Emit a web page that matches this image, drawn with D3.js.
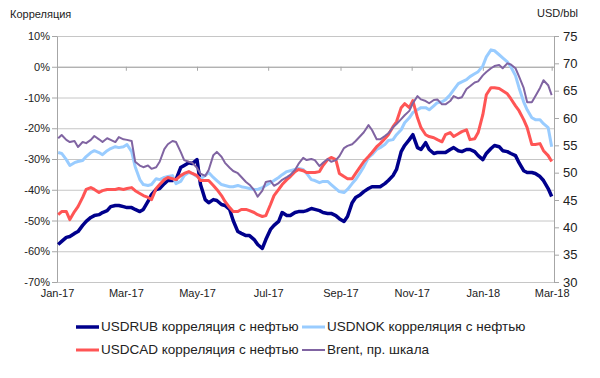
<!DOCTYPE html>
<html>
<head>
<meta charset="utf-8">
<script src="https://cdn.jsdelivr.net/npm/d3@7"></script>
<style>
  body { margin: 0; background: #fff; }
  svg { font-family: "Liberation Sans", Arial, sans-serif; }
</style>
</head>
<body>
<div id="chart"></div>
<script>
// observations twice a week (Mon / Thu)
const dates = [
  "2017-01-02","2017-01-05","2017-01-09","2017-01-12","2017-01-16","2017-01-19","2017-01-23","2017-01-26",
  "2017-01-30","2017-02-02","2017-02-06","2017-02-09","2017-02-13","2017-02-16","2017-02-20","2017-02-23",
  "2017-02-27","2017-03-02","2017-03-06","2017-03-09","2017-03-13","2017-03-16","2017-03-20","2017-03-23",
  "2017-03-27","2017-03-30","2017-04-03","2017-04-06","2017-04-10","2017-04-13","2017-04-17","2017-04-20",
  "2017-04-24","2017-04-27","2017-05-01","2017-05-04","2017-05-08","2017-05-11","2017-05-15","2017-05-18",
  "2017-05-22","2017-05-25","2017-05-29","2017-06-01","2017-06-05","2017-06-08","2017-06-12","2017-06-15",
  "2017-06-19","2017-06-22","2017-06-26","2017-06-29","2017-07-03","2017-07-06","2017-07-10","2017-07-13",
  "2017-07-17","2017-07-20","2017-07-24","2017-07-27","2017-07-31","2017-08-03","2017-08-07","2017-08-10",
  "2017-08-14","2017-08-17","2017-08-21","2017-08-24","2017-08-28","2017-08-31","2017-09-04","2017-09-07",
  "2017-09-11","2017-09-14","2017-09-18","2017-09-21","2017-09-25","2017-09-28","2017-10-02","2017-10-05",
  "2017-10-09","2017-10-12","2017-10-16","2017-10-19","2017-10-23","2017-10-26","2017-10-30","2017-11-02",
  "2017-11-06","2017-11-09","2017-11-13","2017-11-16","2017-11-20","2017-11-23","2017-11-27","2017-11-30",
  "2017-12-04","2017-12-07","2017-12-11","2017-12-14","2017-12-18","2017-12-21","2017-12-25","2017-12-28",
  "2018-01-01","2018-01-04","2018-01-08","2018-01-11","2018-01-15","2018-01-18","2018-01-22","2018-01-25",
  "2018-01-29","2018-02-01","2018-02-05","2018-02-08","2018-02-12","2018-02-15","2018-02-19","2018-02-22",
  "2018-02-26","2018-03-01"
];

const usdrub = [
  -57.8,-56.8,-55.5,-55.2,-54.2,-53.6,-51.6,-50.3,-49.0,-48.4,-48.1,-47.4,-46.8,-45.5,-45.1,-45.1,
  -45.5,-45.8,-45.8,-46.4,-47.1,-46.4,-43.8,-41.6,-39.9,-39.6,-38.0,-37.0,-37.0,-36.7,-32.8,-32.1,
  -31.2,-31.5,-30.2,-38.3,-43.2,-44.2,-43.2,-43.5,-44.8,-45.1,-46.4,-50.0,-53.6,-54.2,-54.9,-54.9,
  -56.2,-57.8,-59.1,-56.2,-52.9,-51.6,-50.3,-47.4,-48.4,-48.4,-47.4,-47.1,-47.1,-46.8,-46.1,-46.4,
  -46.8,-47.4,-47.7,-47.7,-48.4,-49.4,-50.3,-48.7,-44.2,-42.5,-41.6,-40.6,-39.6,-39.0,-39.0,-39.0,
  -38.0,-37.0,-35.4,-33.4,-27.6,-25.6,-23.7,-22.1,-26.3,-26.9,-24.7,-26.9,-28.2,-27.9,-27.9,-27.9,
  -26.9,-26.3,-27.3,-27.6,-26.9,-26.9,-27.6,-28.9,-30.2,-28.2,-26.6,-25.6,-26.0,-27.3,-27.6,-28.2,
  -28.9,-31.2,-33.8,-34.4,-34.4,-34.7,-35.7,-37.0,-39.6,-42.2
];
const usdnok = [
  -27.9,-28.2,-30.2,-32.1,-31.2,-30.8,-30.5,-29.2,-27.9,-27.3,-27.9,-28.6,-27.3,-26.6,-26.0,-26.3,
  -26.0,-25.3,-27.6,-32.5,-36.7,-38.3,-38.6,-38.3,-36.4,-36.7,-36.0,-35.7,-35.4,-38.0,-37.3,-35.4,
  -34.4,-34.7,-35.7,-36.4,-35.4,-34.4,-36.0,-37.0,-38.3,-38.6,-39.0,-39.0,-38.6,-39.0,-39.3,-39.6,
  -39.9,-39.9,-39.3,-38.6,-37.7,-37.0,-36.0,-35.1,-34.1,-33.8,-33.4,-33.1,-33.4,-34.7,-36.7,-37.0,
  -37.7,-37.3,-37.3,-38.3,-39.6,-40.6,-40.9,-39.9,-38.0,-36.7,-34.4,-32.5,-29.5,-28.6,-26.9,-26.3,
  -25.3,-24.0,-23.7,-22.1,-20.5,-18.2,-16.6,-14.9,-14.0,-13.3,-13.3,-14.0,-12.7,-11.7,-11.4,-10.7,
  -9.1,-7.5,-5.5,-4.9,-4.2,-3.2,-2.3,-1.6,0.3,3.2,5.5,5.2,3.9,2.9,1.6,0.0,
  -2.9,-6.8,-11.4,-14.0,-16.6,-17.2,-17.2,-18.5,-19.8,-26.0
];
const usdcad = [
  -48.1,-47.1,-47.1,-49.7,-47.1,-45.5,-42.5,-39.9,-39.3,-39.9,-40.9,-40.3,-39.9,-39.9,-39.9,-39.6,
  -39.9,-39.6,-39.3,-40.3,-41.2,-41.9,-42.5,-43.2,-39.6,-38.3,-36.7,-36.0,-36.4,-36.7,-35.4,-34.7,
  -34.1,-34.7,-35.4,-37.0,-37.0,-37.0,-38.6,-39.9,-41.9,-43.8,-45.8,-47.1,-47.1,-46.4,-46.4,-46.8,
  -47.4,-48.1,-48.7,-48.4,-44.8,-41.9,-39.9,-38.3,-36.7,-35.7,-34.1,-33.4,-33.8,-34.4,-34.4,-34.4,
  -34.1,-32.1,-30.2,-29.5,-30.2,-34.7,-35.7,-36.4,-36.4,-34.7,-32.5,-30.8,-29.2,-27.9,-26.0,-25.0,
  -23.4,-22.1,-19.5,-17.9,-13.3,-12.0,-13.3,-11.0,-16.6,-19.8,-22.1,-22.7,-23.1,-23.7,-24.4,-22.1,
  -21.4,-22.7,-21.8,-21.1,-20.5,-23.7,-23.4,-21.4,-15.6,-9.1,-6.8,-6.8,-7.1,-7.8,-8.8,-10.4,
  -12.7,-14.3,-17.2,-19.8,-25.3,-25.3,-25.0,-27.3,-28.9,-30.8
];
// USD/bbl, right axis
const brent = [
  56.3,56.9,56.0,55.6,55.8,54.7,55.6,55.4,56.0,56.7,56.1,55.6,56.3,56.0,55.6,56.5,
  56.1,56.0,55.8,52.0,51.3,51.0,51.3,50.7,51.0,52.0,54.3,55.2,55.8,55.6,53.8,52.3,
  52.0,51.8,50.9,49.8,49.4,50.5,53.2,53.8,52.9,51.8,50.9,50.3,49.9,49.2,48.3,47.8,
  46.8,45.6,46.7,48.3,48.5,47.6,48.1,48.7,49.2,49.6,50.5,51.6,52.7,52.3,52.5,52.3,
  51.2,51.8,52.5,52.0,52.3,53.0,54.5,54.9,55.2,55.8,56.7,57.4,58.7,57.8,56.1,56.1,
  56.7,57.2,58.3,58.9,59.8,60.5,61.3,62.7,64.0,63.4,63.1,62.7,63.3,63.4,62.5,62.5,
  63.1,64.0,63.6,63.8,65.3,65.8,66.5,66.7,67.8,68.4,69.1,69.5,69.7,69.1,70.0,69.8,
  69.1,67.6,65.5,62.9,62.9,64.0,65.5,66.9,66.0,64.2
];

const leftTicks = [10, 0, -10, -20, -30, -40, -50, -60, -70];
const rightTicks = [30, 35, 40, 45, 50, 55, 60, 65, 70, 75];
const xTicks = ["2017-01-01","2017-03-01","2017-05-01","2017-07-01","2017-09-01","2017-11-01","2018-01-01","2018-03-01"];

const series = [
  { name: "USDRUB корреляция с нефтью", values: usdrub, color: "#00008C", width: 3.5, axis: "left" },
  { name: "USDNOK корреляция с нефтью", values: usdnok, color: "#99CCFF", width: 3, axis: "left" },
  { name: "USDCAD корреляция с нефтью", values: usdcad, color: "#FF5555", width: 3, axis: "left" },
  { name: "Brent, пр. шкала", values: brent, color: "#8064A2", width: 2, axis: "right" }
];

const width = 600, height = 378;
const plot = { left: 57, right: 554, top: 36, bottom: 282 };
const parse = d3.timeParse("%Y-%m-%d");

const svg = d3.select("#chart").append("svg")
    .attr("width", width)
    .attr("height", height);

const x = d3.scaleTime()
    .domain([new Date(2017, 0, 1), new Date(2018, 2, 3)])
    .range([plot.left, plot.right]);
const yLeft = d3.scaleLinear().domain([-70, 10]).range([plot.bottom, plot.top]);
const yRight = d3.scaleLinear().domain([30, 75]).range([plot.bottom, plot.top]);

// gridlines
svg.append("g")
    .attr("class", "grid")
    .attr("transform", `translate(${plot.left},0)`)
    .call(d3.axisLeft(yLeft).tickValues(leftTicks).tickSize(-(plot.right - plot.left)).tickFormat(""))
    .call(g => g.select(".domain").remove())
    .call(g => g.selectAll("line").attr("stroke", "#C6C6C6"));

// x axis line sits on 0%
svg.append("g")
    .attr("transform", `translate(0,${yLeft(0)})`)
    .call(d3.axisBottom(x).tickValues(xTicks.map(parse)).tickSize(4).tickFormat("").tickSizeOuter(0))
    .call(g => g.select(".domain").attr("stroke", "#A6A6A6"))
    .call(g => g.selectAll("line").attr("stroke", "#A6A6A6"));

// x labels at the bottom
svg.append("g")
    .attr("transform", `translate(0,${plot.bottom})`)
    .call(d3.axisBottom(x).tickValues(xTicks.map(parse)).tickSize(0).tickPadding(7).tickFormat(d3.timeFormat("%b-%y")))
    .call(g => g.select(".domain").remove())
    .call(g => g.selectAll("text").attr("font-size", 11).attr("fill", "#222").style("font-family", "Liberation Sans, Arial"));

// left axis
svg.append("g")
    .attr("transform", `translate(${plot.left},0)`)
    .call(d3.axisLeft(yLeft).tickValues(leftTicks).tickSize(5).tickPadding(2).tickSizeOuter(0).tickFormat(d => d + "%"))
    .call(g => g.select(".domain").attr("stroke", "#A6A6A6"))
    .call(g => g.selectAll("line").attr("stroke", "#A6A6A6"))
    .call(g => g.selectAll("text").attr("font-size", 11).attr("fill", "#222").style("font-family", "Liberation Sans, Arial"));

// right axis
svg.append("g")
    .attr("transform", `translate(${plot.right},0)`)
    .call(d3.axisRight(yRight).tickValues(rightTicks).tickSize(5).tickPadding(4).tickSizeOuter(0))
    .call(g => g.select(".domain").attr("stroke", "#A6A6A6"))
    .call(g => g.selectAll("line").attr("stroke", "#A6A6A6"))
    .call(g => g.selectAll("text").attr("font-size", 13).attr("fill", "#222").style("font-family", "Liberation Sans, Arial"));

// axis titles
svg.append("text").attr("x", 10).attr("y", 18)
    .attr("font-size", 11).attr("fill", "#222").text("Корреляция");
svg.append("text").attr("x", 578).attr("y", 17).attr("text-anchor", "end")
    .attr("font-size", 11).attr("fill", "#222").text("USD/bbl");

// lines
series.forEach(s => {
    const y = s.axis === "left" ? yLeft : yRight;
    const line = d3.line()
        .x((d, i) => x(parse(dates[i])))
        .y(d => y(d));
    svg.append("path")
        .datum(s.values)
        .attr("fill", "none")
        .attr("stroke", s.color)
        .attr("stroke-width", s.width)
        .attr("stroke-linejoin", "round")
        .attr("d", line);
});

// legend
const legendPos = [[76, 331], [302, 331], [76, 354], [302, 354]];
const legend = svg.append("g").attr("class", "legend");
series.forEach((s, i) => {
    const [lx, ly] = legendPos[i];
    legend.append("line")
        .attr("x1", lx).attr("x2", lx + 23)
        .attr("y1", ly - 4).attr("y2", ly - 4)
        .attr("stroke", s.color)
        .attr("stroke-width", s.width);
    legend.append("text")
        .attr("x", lx + 25).attr("y", ly)
        .attr("font-size", 13.5)
        .attr("fill", "#222")
        .text(s.name);
});
</script>
</body>
</html>
